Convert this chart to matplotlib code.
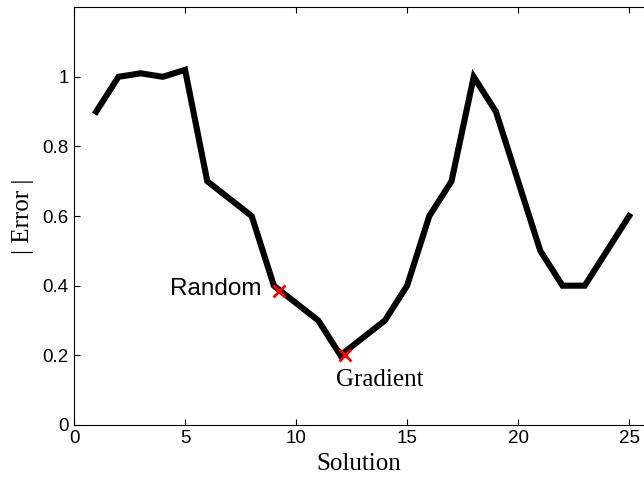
import matplotlib
matplotlib.use("Agg")
import matplotlib.pyplot as plt

solution = list(range(1, 26))
error = [0.9, 1.0, 1.01, 1.0, 1.02, 0.7, 0.65, 0.6, 0.4, 0.35, 0.3, 0.2, 0.25,
         0.3, 0.4, 0.6, 0.7, 1.0, 0.9, 0.7, 0.5, 0.4, 0.4, 0.5, 0.6]
start_names = ["Random", "Gradient"]
start_x = [9.25, 12.2]
start_y = [0.385, 0.2]

sans = "Liberation Sans"
serif = "Liberation Serif"

fig = plt.figure(figsize=(6.44, 4.78), dpi=100)
ax = fig.add_axes([0.115, 0.111, 0.885, 0.874])
ax.plot(solution, error, color="black", lw=4.4, solid_joinstyle="miter")
ax.plot(start_x, start_y, "x", color="red", ms=9, mew=2)

ax.text(start_x[0] - 0.8, start_y[0] + 0.005, start_names[0], ha="right", va="center",
        fontsize=17.5, family=sans)
ax.text(start_x[1] - 0.4, start_y[1] - 0.04, start_names[1], ha="left", va="top",
        fontsize=18, family=serif)

ax.set_xlim(0, 25.67)
ax.set_ylim(0, 1.2)
ax.set_xticks([0, 5, 10, 15, 20, 25])
ax.set_yticks([0, 0.2, 0.4, 0.6, 0.8, 1])
ax.set_yticklabels(["0", "0.2", "0.4", "0.6", "0.8", "1"])
ax.tick_params(direction="in", top=True, length=4, labelsize=13.5, pad=4)
for lab in ax.get_xticklabels() + ax.get_yticklabels():
    lab.set_family(sans)
ax.spines["right"].set_visible(False)
ax.set_xlabel("Solution", fontsize=18, family=serif, labelpad=4)
ax.set_ylabel("| Error |", fontsize=18, family=serif, labelpad=6)

fig.savefig("out.png", dpi=100)
